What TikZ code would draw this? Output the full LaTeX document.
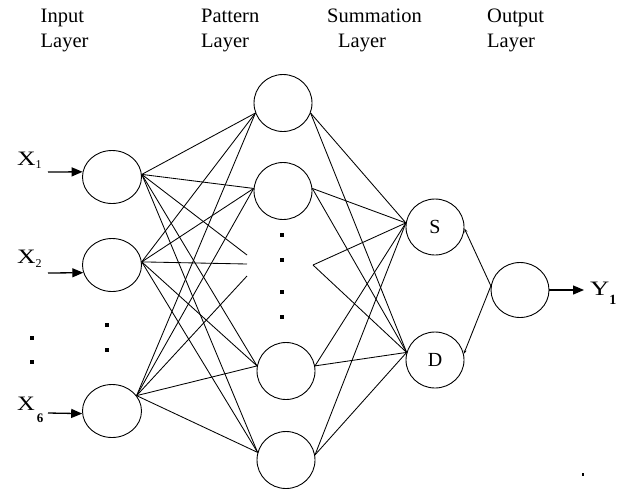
\documentclass[tikz,border=0pt]{standalone}
\usepackage{fontspec}
\setmainfont{Liberation Serif}
\usetikzlibrary{arrows.meta,shapes.geometric}
\begin{document}
\begin{tikzpicture}[x=1pt,y=-1pt,
  neuron/.style={draw,ellipse,minimum width=58pt,minimum height=55pt,inner sep=0pt,line width=0.9pt,font=\fontsize{20}{22}\selectfont},
  link/.style={line width=0.85pt},
  inarrow/.style={line width=1.3pt,-{Triangle[length=11pt,width=9pt]}},
  tinyarrow/.style={line width=0.85pt,-{Stealth[length=4pt,width=3pt]}},
  dotmark/.style={fill=black,minimum size=4.5pt,inner sep=0pt},
  hdr/.style={anchor=base west,inner sep=0pt,font=\fontsize{20.5}{24}\selectfont},
  varlbl/.style={anchor=base west,inner sep=0pt,font=\fontsize{20.5}{24}\selectfont}
]
\useasboundingbox (0,0) rectangle (620,491);

% header labels
\node[hdr] (h1a) at (40.5,22) {Input};
\node[hdr] (h1b) at (40.5,47) {Layer};
\node[hdr] (h2a) at (201,22) {Pattern};
\node[hdr] (h2b) at (201,47) {Layer};
\node[hdr] (h3a) at (327,22) {Summation};
\node[hdr] (h3b) at (338,47) {Layer};
\node[hdr] (h4a) at (487,22) {Output};
\node[hdr] (h4b) at (487,47) {Layer};

% input layer
\node[neuron,minimum width=59pt,minimum height=53pt] (in1) at (112,177) {};
\node[neuron,minimum width=59pt,minimum height=53pt] (in2) at (112,265) {};
\node[neuron,minimum width=59pt,minimum height=53pt] (in3) at (112,411) {};

% pattern layer
\node[neuron,minimum height=57pt] (p1) at (283,103) {};
\node[neuron,minimum height=57pt] (p2) at (283,191) {};
\node[neuron,minimum height=57pt] (p3) at (286,371) {};
\node[neuron,minimum height=57pt] (p4) at (286,460) {};

% summation layer
\node[neuron,minimum height=56pt] (s) at (435,227) {S};
\node[neuron,minimum height=56pt] (d) at (435,360) {D};

% output layer
\node[neuron] (o) at (520,290) {};

% dots
\node[dotmark,minimum size=4pt] (dx1) at (32,338) {};
\node[dotmark,minimum size=4pt] (dx2) at (32,362) {};
\node[dotmark,minimum size=4pt] (di1) at (107,325) {};
\node[dotmark,minimum size=4pt] (di2) at (107,350) {};
\node[dotmark] (dp1) at (282,235) {};
\node[dotmark] (dp2) at (282,260) {};
\node[dotmark] (dp3) at (282,292) {};
\node[dotmark] (dp4) at (282,317) {};
\node[fill=black,minimum width=2pt,minimum height=3pt,inner sep=0pt] (spk) at (583,474) {};

% input labels and arrows
\node[varlbl] (x1) at (17,165) {\scalebox{1.25}[1]{X}\raisebox{-3pt}{\fontsize{12}{12}\selectfont 1}};
\node[varlbl] (x2) at (17,263) {\scalebox{1.25}[1]{X}\raisebox{-4pt}{\fontsize{12}{12}\selectfont 2}};
\node[varlbl] (x6) at (17,410) {\scalebox{1.2}[1]{X}\kern2pt\raisebox{-12pt}{\fontsize{13}{13}\selectfont\bfseries 6}};
\coordinate (x1s) at (48,172);
\coordinate (x2s) at (48,273);
\coordinate (x6s) at (48,413);
\draw[inarrow] (x1s) -- (in1.170);
\draw[inarrow] (x2s) -- (in2.195);
\draw[inarrow] (x6s) -- (in3.185);

% dangling ends in the dotted region
\coordinate (g1) at (247,255);
\coordinate (g2) at (247,264);
\coordinate (g3) at (247,276);
\coordinate (gr) at (313,265);

% input -> pattern
\foreach \src/\g in {in1.5/g1,in2.6/g2,in3.32/g3}{
  \draw[link] (\src) -- (p1.200);
  \draw[link] (\src) -- (p2.175);
  \draw[link] (\src) -- (\g);
  \draw[link] (\src) -- (p3.170);
  \draw[link] (\src) -- (p4.165);
}

% pattern -> summation
\foreach \src in {p1.-20,p2.5,gr,p3.10,p4.10}{
  \draw[link] (\src) -- (s.172);
  \draw[link] (\src) -- (d.165);
}

% summation <-> output
\draw[tinyarrow] (o.172) -- (s.-3);
\draw[tinyarrow] (o.172) -- (d.12);

% output arrow
\coordinate (ye) at (584,290);
\draw[inarrow] (o.east) -- (ye);
\node[varlbl] (y1) at (590,295) {\scalebox{1.3}[1]{Y}\raisebox{-9pt}{\fontsize{14}{14}\selectfont\bfseries 1}};
\end{tikzpicture}
\end{document}
